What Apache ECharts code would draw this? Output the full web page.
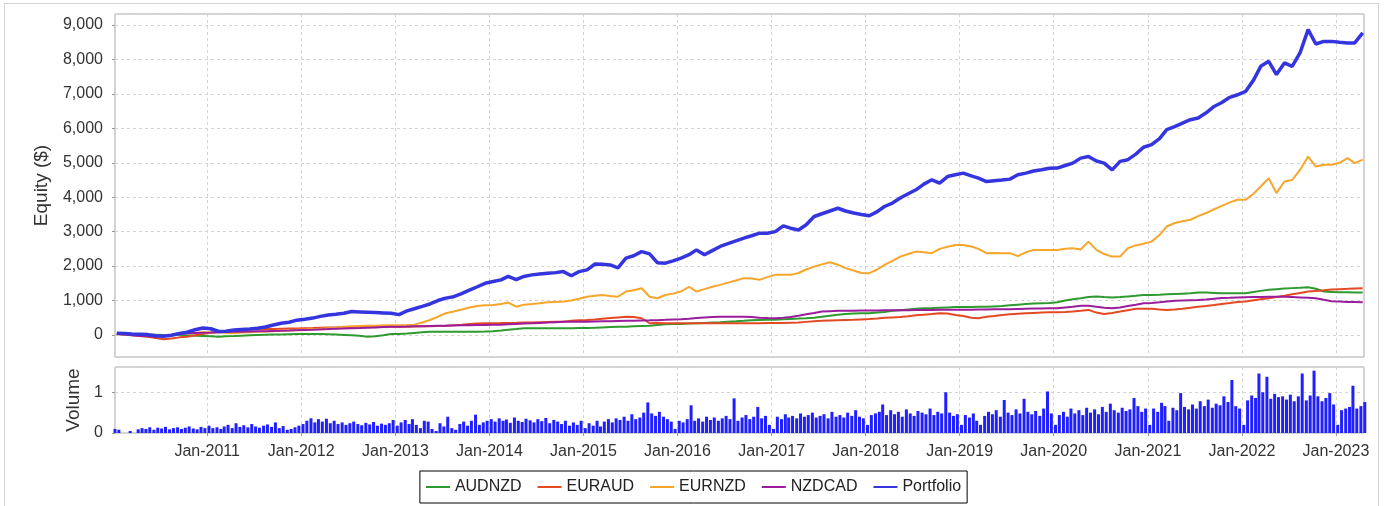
<!DOCTYPE html>
<html>
<head>
<meta charset="utf-8">
<title>Equity</title>
<script src="https://cdn.jsdelivr.net/npm/echarts@6/dist/echarts.min.js"></script>
<style>
  html, body { margin: 0; padding: 0; background: #fff; width: 1386px; height: 506px; overflow: hidden; }
  #frame { position: absolute; left: 4px; top: 3px; width: 1375px; height: 530px; border: 1px solid #d4d4d4; box-sizing: border-box; }
  #chart { position: absolute; left: 0; top: 0; width: 1386px; height: 506px; }
</style>
</head>
<body>
<div id="frame"></div>
<div id="chart"></div>
<script>
var FONT = '"Liberation Sans", Arial, sans-serif'

// x axis range and year ticks
var xStart = '2010-01-08'
var xEnd = '2023-04-20'
var yearTicks = ['2011-01-01', '2012-01-01', '2013-01-01', '2014-01-01', '2015-01-01', '2016-01-01',
  '2017-01-01', '2018-01-01', '2019-01-01', '2020-01-01', '2021-01-01', '2022-01-01', '2023-01-01']
var monthNames = ['Jan', 'Feb', 'Mar', 'Apr', 'May', 'Jun', 'Jul', 'Aug', 'Sep', 'Oct', 'Nov', 'Dec']

// monthly equity, Jan-2010 .. Apr-2023
var audnzd = [
  30, 25, 20, 15, 10, 5, 0, 0, 0, -10, -20, -30,
  -40, -50, -40, -30, -20, -10, 0, 5, 10, 15, 20, 25,
  30, 30, 25, 20, 10, 0, -10, -20, -50, -40, -10, 30,
  30, 40, 60, 80, 90, 95, 95, 95, 95, 95, 95, 100,
  110, 130, 150, 170, 195, 195, 195, 195, 195, 195, 195, 200,
  200, 210, 220, 230, 240, 240, 250, 260, 270, 290, 310, 320,
  320, 330, 340, 350, 360, 370, 385, 395, 410, 425, 435, 440,
  445, 455, 465, 475, 485, 500, 530, 560, 590, 610, 620, 630,
  630, 650, 670, 700, 720, 740, 760, 775, 780, 790, 800, 810,
  810, 815, 820, 820, 830, 840, 860, 880, 900, 910, 920, 930,
  950, 1000, 1040, 1065, 1100, 1120, 1100, 1085, 1100, 1120, 1140, 1160,
  1160, 1170, 1180, 1190, 1200, 1210, 1230, 1230, 1220, 1210, 1210, 1210,
  1210, 1250, 1280, 1310, 1330, 1350, 1360, 1370, 1385, 1340, 1260, 1250,
  1240, 1240, 1235, 1230
]
var euraud = [
  30, 10, -10, -30, -50, -90, -125, -100, -70, -50, -10, 30,
  65, 80, 100, 120, 140, 160, 165, 170, 175, 180, 185, 190,
  195, 200, 210, 215, 220, 225, 230, 235, 240, 240, 240, 240,
  240, 240, 245, 250, 255, 260, 265, 280, 300, 320, 335, 340,
  340, 345, 350, 355, 360, 365, 370, 375, 380, 385, 410, 425,
  435, 450, 470, 490, 510, 530, 520, 485, 340, 345, 340, 340,
  340, 340, 340, 340, 340, 340, 340, 340, 340, 340, 340, 345,
  345, 350, 355, 360, 380, 400, 410, 420, 430, 435, 440, 450,
  460, 480, 500, 510, 520, 540, 570, 590, 610, 630, 620, 580,
  550, 500, 485, 530, 550, 580, 600, 615, 630, 640, 650, 660,
  660, 670, 680, 700, 727, 650, 610, 640, 680, 720, 760, 760,
  760, 740, 727, 740, 760, 790, 820, 840, 870, 900, 930, 960,
  970, 1010, 1040, 1065, 1100, 1140, 1180, 1220, 1260, 1280, 1300, 1320,
  1330, 1340, 1350, 1355
]
var eurnzd = [
  20, 10, 0, -10, -20, -30, -20, 0, 20, 40, 60, 80,
  70, 90, 60, 50, 70, 80, 90, 100, 110, 120, 130, 150,
  160, 170, 180, 195, 210, 240, 250, 260, 270, 270, 280, 280,
  280, 290, 300, 360, 435, 530, 630, 680, 740, 800, 840, 860,
  870, 900, 940, 820, 880, 900, 920, 950, 960, 970, 1000, 1050,
  1110, 1140, 1160, 1130, 1110, 1260, 1300, 1355, 1110, 1065, 1160, 1200,
  1260, 1400, 1260, 1330, 1400, 1455, 1520, 1580, 1650, 1640, 1600, 1680,
  1745, 1750, 1745, 1800, 1900, 1985, 2050, 2110, 2040, 1940, 1870, 1800,
  1795, 1900, 2035, 2150, 2275, 2350, 2420, 2400, 2375, 2500, 2560, 2615,
  2615, 2570, 2500, 2375, 2380, 2375, 2375, 2290, 2400, 2470, 2470, 2470,
  2470, 2500, 2520, 2480, 2710, 2470, 2350, 2275, 2275, 2520, 2600, 2650,
  2710, 2900, 3150, 3250, 3300, 3345, 3450, 3540, 3650, 3750, 3850, 3925,
  3925, 4100, 4310, 4555, 4120, 4455, 4500, 4800, 5180, 4890, 4940, 4940,
  5000, 5135, 4990, 5090
]
var nzdcad = [
  30, 10, -10, -30, -40, -50, -30, 0, 30, 50, 60, 65,
  70, 80, 85, 90, 95, 100, 105, 110, 115, 120, 130, 140,
  145, 150, 160, 170, 180, 190, 195, 200, 210, 220, 230, 240,
  240, 245, 250, 255, 260, 265, 270, 275, 280, 285, 290, 290,
  295, 300, 310, 320, 330, 340, 350, 360, 370, 380, 385, 385,
  385, 390, 395, 400, 405, 410, 415, 420, 425, 430, 440, 450,
  455, 470, 490, 510, 525, 530, 530, 530, 530, 520, 500, 490,
  485, 500, 520, 560, 600, 640, 680, 690, 700, 700, 705, 710,
  710, 710, 715, 715, 720, 720, 725, 725, 727, 730, 730, 735,
  735, 735, 740, 740, 745, 745, 750, 755, 760, 765, 770, 775,
  775, 800, 820, 845, 845, 820, 790, 775, 800, 840, 880, 920,
  930, 950, 970, 990, 1000, 1010, 1015, 1030, 1050, 1070, 1080, 1090,
  1095, 1100, 1105, 1110, 1110, 1110, 1100, 1090, 1080, 1065, 1020, 980,
  970, 960, 955, 950
]
var portfolio = [
  50, 40, 30, 20, 10, -20, -40, -10, 40, 80, 150, 200,
  180, 100, 110, 145, 160, 170, 195, 230, 290, 340, 370, 430,
  455, 490, 540, 580, 600, 630, 680, 670, 660, 650, 640, 630,
  590, 700, 760, 830, 900, 1000, 1070, 1110, 1200, 1300, 1400, 1500,
  1550, 1600, 1700, 1610, 1700, 1745, 1770, 1790, 1810, 1840, 1720, 1840,
  1890, 2060, 2050, 2035, 1950, 2230, 2300, 2420, 2355, 2100, 2085, 2150,
  2230, 2330, 2470, 2330, 2450, 2570, 2650, 2730, 2810, 2880, 2955, 2955,
  3000, 3170, 3100, 3050, 3200, 3440, 3520, 3600, 3680, 3600, 3540, 3500,
  3460, 3580, 3730, 3830, 3975, 4100, 4215, 4380, 4505, 4410, 4600, 4650,
  4700, 4620, 4555, 4455, 4480, 4500, 4525, 4650, 4700, 4760, 4795, 4840,
  4845, 4920, 4990, 5135, 5180, 5050, 4990, 4795, 5040, 5090, 5250, 5450,
  5525, 5700, 5960, 6050, 6150, 6250, 6300, 6450, 6635, 6750, 6900, 6975,
  7070, 7400, 7800, 7945, 7560, 7900, 7800, 8200, 8865, 8450, 8525, 8525,
  8500, 8480, 8480, 8770
]

// half-monthly volume, Jan-2010 .. Apr-2023
var volume = [
  0.10, 0.08, 0.00, 0.00, 0.05, 0.00, 0.09, 0.12, 0.10, 0.14, 0.08, 0.13, 0.11, 0.15, 0.09, 0.12, 0.14, 0.10, 0.13, 0.16, 0.11, 0.09, 0.15, 0.12,
  0.18, 0.12, 0.14, 0.10, 0.16, 0.20, 0.12, 0.24, 0.15, 0.19, 0.14, 0.22, 0.16, 0.13, 0.18, 0.21, 0.15, 0.26, 0.12, 0.17, 0.08, 0.10, 0.14, 0.18,
  0.22, 0.30, 0.36, 0.26, 0.34, 0.28, 0.35, 0.24, 0.30, 0.22, 0.26, 0.20, 0.24, 0.28, 0.22, 0.19, 0.25, 0.21, 0.27, 0.18, 0.23, 0.20, 0.24, 0.32,
  0.18, 0.26, 0.32, 0.22, 0.34, 0.20, 0.12, 0.30, 0.28, 0.10, 0.05, 0.24, 0.16, 0.40, 0.12, 0.08, 0.22, 0.28, 0.18, 0.30, 0.45, 0.20, 0.26, 0.30,
  0.34, 0.28, 0.36, 0.30, 0.33, 0.25, 0.38, 0.30, 0.27, 0.35, 0.31, 0.26, 0.34, 0.29, 0.37, 0.24, 0.32, 0.28, 0.22, 0.30, 0.18, 0.26, 0.20, 0.30,
  0.12, 0.24, 0.18, 0.30, 0.16, 0.28, 0.34, 0.26, 0.36, 0.32, 0.40, 0.30, 0.46, 0.34, 0.38, 0.50, 0.75, 0.48, 0.42, 0.52, 0.40, 0.34, 0.28, 0.10,
  0.30, 0.26, 0.34, 0.68, 0.30, 0.36, 0.28, 0.40, 0.32, 0.38, 0.30, 0.36, 0.42, 0.34, 0.85, 0.30, 0.38, 0.44, 0.34, 0.40, 0.64, 0.36, 0.42, 0.20,
  0.10, 0.40, 0.34, 0.46, 0.38, 0.42, 0.36, 0.48, 0.40, 0.44, 0.50, 0.38, 0.42, 0.46, 0.36, 0.52, 0.40, 0.44, 0.38, 0.50, 0.42, 0.56, 0.40, 0.36,
  0.20, 0.44, 0.48, 0.52, 0.70, 0.44, 0.56, 0.46, 0.52, 0.40, 0.58, 0.48, 0.42, 0.54, 0.50, 0.46, 0.60, 0.44, 0.52, 0.48, 1.00, 0.50, 0.42, 0.46,
  0.20, 0.44, 0.38, 0.48, 0.30, 0.20, 0.42, 0.52, 0.46, 0.56, 0.40, 0.81, 0.50, 0.44, 0.58, 0.48, 0.84, 0.52, 0.46, 0.54, 0.42, 0.60, 1.02, 0.48,
  0.20, 0.44, 0.52, 0.40, 0.60, 0.48, 0.56, 0.44, 0.62, 0.50, 0.58, 0.46, 0.64, 0.52, 0.72, 0.56, 0.50, 0.62, 0.54, 0.58, 0.86, 0.66, 0.52, 0.60,
  0.20, 0.60, 0.52, 0.74, 0.66, 0.30, 0.62, 0.56, 0.98, 0.64, 0.58, 0.70, 0.60, 0.78, 0.66, 0.82, 0.62, 0.72, 0.68, 0.90, 0.76, 1.30, 0.66, 0.60,
  0.20, 0.80, 0.92, 0.86, 1.46, 1.00, 1.38, 0.84, 0.96, 0.88, 0.90, 0.82, 0.94, 0.78, 0.90, 1.46, 0.80, 0.92, 1.53, 0.90, 0.78, 0.86, 0.98, 0.70,
  0.20, 0.56, 0.60, 0.64, 1.16, 0.60, 0.66, 0.76
]

function pad(n) { return n < 10 ? '0' + n : '' + n }
function ts(s) { return +echarts.time.parse(s) }

// one date per month (15th) and two per month (8th, 23rd)
var monthDates = []
var halfDates = []
for (var i = 0; i < portfolio.length; i++) {
  var yy = 2010 + Math.floor(i / 12)
  var mm = pad(i % 12 + 1)
  monthDates.push(ts(yy + '-' + mm + '-15'))
  halfDates.push(ts(yy + '-' + mm + '-08'), ts(yy + '-' + mm + '-23'))
}

function pair(dates, vals) {
  return vals.map(function(v, k) { return [dates[k], v] })
}

var tickVals = yearTicks.map(ts)
var xMin = ts(xStart)
var xMax = ts(xEnd)

var gridLine = { show: true, lineStyle: { color: '#d4d4d4', type: [3, 3], width: 1 } }

function lineSeries(name, color, width, vals) {
  return {
    name: name,
    type: 'line',
    xAxisIndex: 0,
    yAxisIndex: 0,
    data: pair(monthDates, vals),
    showSymbol: false,
    symbol: 'none',
    lineStyle: { color: color, width: width },
    itemStyle: { color: color }
  }
}

var chart = echarts.init(document.getElementById('chart'))
chart.setOption({
  animation: false,
  backgroundColor: 'transparent',
  textStyle: { fontFamily: FONT },
  grid: [
    { left: 115, right: 22, top: 14, height: 343, show: true, borderColor: '#a8a8a8', borderWidth: 1, backgroundColor: '#fff' },
    { left: 115, right: 22, top: 367, height: 66, show: true, borderColor: '#a8a8a8', borderWidth: 1, backgroundColor: '#fff' }
  ],
  legend: {
    data: ['AUDNZD', 'EURAUD', 'EURNZD', 'NZDCAD', 'Portfolio'],
    left: 'center',
    top: 471,
    borderColor: '#000',
    borderWidth: 1,
    padding: [8, 6, 8, 5],
    itemGap: 15,
    itemWidth: 24,
    itemHeight: 14,
    itemStyle: { opacity: 0 },
    textStyle: { fontSize: 16, color: '#222', fontFamily: FONT }
  },
  xAxis: [
    {
      type: 'value', gridIndex: 0, min: xMin, max: xMax,
      axisLine: { show: false },
      axisTick: { show: false, customValues: tickVals },
      axisLabel: { show: false, customValues: tickVals },
      splitLine: gridLine
    },
    {
      type: 'value', gridIndex: 1, min: xMin, max: xMax,
      axisLine: { show: false },
      axisTick: { show: true, length: 3, customValues: tickVals, lineStyle: { color: '#999' } },
      axisLabel: {
        customValues: tickVals, fontSize: 16, color: '#333', margin: 11, fontFamily: FONT,
        formatter: function(v) {
          var d = new Date(v)
          return monthNames[d.getMonth()] + '-' + d.getFullYear()
        }
      },
      splitLine: gridLine
    }
  ],
  yAxis: [
    {
      type: 'value', gridIndex: 0, min: -640, max: 9320, splitNumber: 10,
      name: 'Equity ($)', nameLocation: 'middle', nameGap: 64,
      nameTextStyle: { fontSize: 19, color: '#333', fontFamily: FONT },
      axisLine: { show: false },
      axisTick: { show: true, length: 3, lineStyle: { color: '#999' } },
      axisLabel: {
        fontSize: 16, color: '#333', margin: 12, fontFamily: FONT,
        showMinLabel: false, showMaxLabel: false,
        formatter: function(v) { return v.toLocaleString('en-US') }
      },
      splitLine: gridLine
    },
    {
      type: 'value', gridIndex: 1, min: 0, max: 1.62, interval: 1,
      name: 'Volume', nameLocation: 'middle', nameGap: 32,
      nameTextStyle: { fontSize: 19, color: '#333', fontFamily: FONT },
      axisLine: { show: false },
      axisTick: { show: true, length: 3, lineStyle: { color: '#999' } },
      axisLabel: { fontSize: 16, color: '#333', margin: 12, fontFamily: FONT, showMaxLabel: false },
      splitLine: gridLine
    }
  ],
  series: [
    lineSeries('AUDNZD', '#2f9a2f', 2, audnzd),
    lineSeries('EURAUD', '#e34a24', 2, euraud),
    lineSeries('EURNZD', '#f7a62c', 2, eurnzd),
    lineSeries('NZDCAD', '#9b1d9b', 2, nzdcad),
    lineSeries('Portfolio', '#3535e0', 3.5, portfolio),
    {
      name: 'Volume',
      type: 'bar',
      xAxisIndex: 1,
      yAxisIndex: 1,
      data: pair(halfDates, volume),
      barWidth: 3,
      itemStyle: { color: '#1f1fff' }
    }
  ]
})
</script>
</body>
</html>
